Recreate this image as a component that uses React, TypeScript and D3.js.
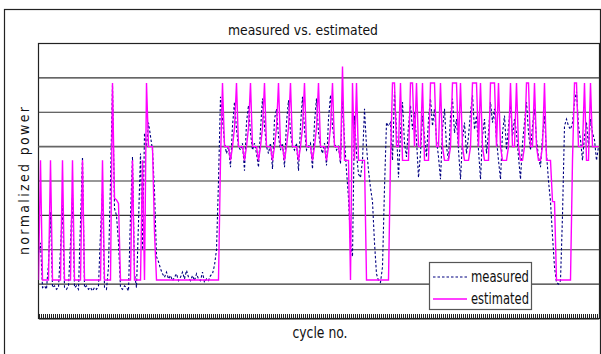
import { useEffect, useRef } from 'react'
import * as d3 from 'd3'

// normalized power per cycle (one value per cycle)
const measured = [
  0.9, 1.2, -0.1, -0.05, -0.15, 0.6, 2.1, -0.1, -0.05, -0.15, -0.1, 1.0, 2.3, -0.1, -0.15, -0.05, 1.2, 2.6, -0.1, -0.05,
  -0.15, 1.8, 3.7, -0.1, -0.05, -0.15, -0.1, -0.2, -0.1, -0.15, -0.05, 1.5, 2.7, -0.1, -0.15, 0.5, 3.0, 5.8, 2.2, 2.0,
  1.2, -0.1, -0.15, -0.05, -0.1, -0.2, 2.0, 3.7, 0.3, -0.1, 1.8, 3.8, 1.0, 4.4, 4.0, 4.7, 4.3, 3.9, 2.7, 0.8,
  0.65, 0.45, 0.3, 0.2, 0.35, 0.15, 0.25, 0.1, 0.2, 0.3, 0.1, 0.2, 0.35, 0.15, 0.4, 0.2, 0.1, 0.25, 0.1, 0.3,
  0.15, 0.1, 0.35, 0.05, 0.15, 0.1, 0.25, 0.3, 0.55, 1.0, 3.0, 5.45, 4.8, 4.1, 3.8, 4.0, 3.4, 4.6, 5.3, 4.5,
  4.0, 3.9, 4.1, 3.3, 4.7, 5.2, 4.4, 3.9, 4.1, 3.8, 3.4, 4.5, 5.4, 4.6, 4.0, 3.8, 4.1, 3.35, 4.8, 5.1,
  4.3, 3.9, 4.1, 3.4, 4.7, 5.35, 4.4, 4.0, 3.9, 4.1, 3.3, 4.6, 5.45, 4.5, 3.9, 4.0, 4.1, 3.35, 4.7, 5.4,
  4.4, 4.0, 3.8, 4.1, 3.45, 4.8, 5.5, 4.6, 4.1, 3.9, 4.0, 3.5, 5.4, 4.2, 3.3, 2.5, 1.2, 0.8, 4.9, 3.8,
  3.2, 3.1, 3.6, 5.1, 4.0, 3.3, 2.8, 2.4, 1.2, 0.3, 0.1, 0.05, 0.5, 2.8, 4.7, 4.6, 4.7, 3.6, 5.6, 4.5,
  3.1, 4.4, 5.3, 4.1, 3.7, 4.6, 5.2, 4.5, 5.0, 4.2, 3.1, 3.8, 4.9, 4.3, 3.7, 4.8, 5.4, 4.6, 5.1, 4.2,
  3.7, 3.05, 4.5, 5.1, 4.0, 3.6, 4.9, 5.4, 4.4, 4.8, 3.9, 3.05, 4.2, 4.7, 3.8, 4.3, 5.0, 5.5, 4.5, 4.9,
  3.9, 3.05, 4.3, 4.8, 3.8, 4.4, 5.3, 4.7, 5.1, 4.2, 3.6, 3.05, 4.4, 4.9, 3.9, 4.6, 5.2, 4.3, 4.8, 4.4,
  3.7, 3.05, 4.1, 4.7, 5.3, 4.4, 3.9, 4.6, 5.1, 4.2, 3.7, 3.4, 4.3, 4.9, 3.8, 3.0, 2.4, 1.4, 0.5, 0.05,
  0.0, 0.1, 2.0, 4.6, 4.8, 4.6, 4.5, 4.7, 5.3, 5.6, 4.6, 4.2, 3.6, 4.3, 4.7, 4.0, 4.8, 4.4, 4.2, 3.6,
  4.0,
]

const estimated = [
  0.12, 3.6, 0.12, 0.12, 0.12, 0.12, 3.6, 0.12, 0.12, 0.12, 0.12, 0.12, 3.6, 0.12, 0.12, 0.12, 0.12, 3.6, 0.12, 0.12,
  0.12, 0.12, 3.6, 0.12, 0.12, 0.12, 0.12, 0.12, 0.12, 0.12, 0.12, 0.12, 3.6, 0.12, 0.12, 0.12, 0.12, 5.85, 2.5, 2.45,
  2.35, 0.12, 0.12, 0.12, 0.12, 0.12, 0.12, 3.6, 0.12, 0.12, 0.12, 0.12, 3.6, 0.12, 5.85, 4.0, 4.0, 4.0, 1.5, 0.12,
  0.12, 0.12, 0.12, 0.12, 0.12, 0.12, 0.12, 0.12, 0.12, 0.12, 0.12, 0.12, 0.12, 0.12, 0.12, 0.12, 0.12, 0.12, 0.12, 0.12,
  0.12, 0.12, 0.12, 0.12, 0.12, 0.12, 0.12, 0.12, 0.12, 0.12, 0.12, 3.6, 5.85, 4.0, 4.0, 4.0, 3.6, 4.0, 4.55, 5.85,
  4.0, 4.0, 4.0, 3.6, 4.0, 4.55, 5.85, 4.0, 4.0, 4.0, 3.6, 4.0, 4.55, 5.85, 4.0, 4.0, 4.0, 3.6, 4.0, 4.55,
  5.85, 4.0, 4.0, 3.6, 4.0, 4.55, 5.85, 4.0, 4.0, 4.0, 3.6, 4.0, 4.55, 5.85, 4.0, 4.0, 4.0, 3.6, 4.0, 4.55,
  5.85, 4.0, 4.0, 4.0, 3.6, 4.0, 4.55, 5.85, 4.0, 4.0, 4.0, 3.6, 6.33, 3.6, 3.6, 3.6, 0.12, 5.85, 3.6, 5.85,
  3.6, 3.6, 3.6, 3.6, 0.12, 0.12, 0.12, 0.12, 0.12, 0.12, 0.12, 0.12, 0.12, 0.12, 0.12, 0.12, 3.6, 5.85, 5.85, 4.0,
  4.0, 5.85, 3.6, 3.6, 3.6, 3.6, 5.85, 5.85, 4.0, 5.85, 4.0, 4.0, 5.85, 3.6, 3.6, 3.6, 5.85, 5.85, 5.85, 4.0,
  4.0, 5.85, 4.0, 3.6, 3.6, 3.6, 4.0, 5.85, 5.85, 5.85, 4.0, 5.85, 4.0, 3.6, 3.6, 3.6, 4.0, 5.85, 5.85, 5.85,
  4.0, 5.85, 4.0, 3.6, 3.6, 3.6, 5.85, 5.85, 5.85, 4.0, 5.85, 4.0, 3.6, 3.6, 3.6, 4.0, 5.85, 4.0, 4.0, 5.85,
  4.0, 3.6, 3.6, 4.0, 5.85, 5.85, 4.0, 4.0, 5.85, 4.0, 3.6, 3.6, 4.0, 5.85, 3.6, 3.6, 3.6, 2.4, 2.4, 0.12,
  0.12, 0.12, 0.12, 0.12, 0.12, 0.12, 0.12, 3.6, 5.85, 5.85, 4.0, 4.0, 4.0, 5.85, 3.6, 3.6, 5.85, 4.0, 4.0, 4.0,
  4.0,
]

const gridValues = [0, 1, 2, 3, 4, 5, 6]
const yDomain = [-1, 7]

const FONT = "'Liberation Sans Narrow', 'Arial Narrow', 'DejaVu Sans Condensed', sans-serif"

export default function App() {
  const svgRef = useRef<SVGSVGElement>(null)

  useEffect(() => {
    if (!svgRef.current) return
    const svg = d3.select(svgRef.current)
    svg.selectAll('*').remove()

    const plot = { left: 38.5, right: 599.5, top: 43.5, bottom: 318.5 }
    const n = Math.max(measured.length, estimated.length)

    const x = d3.scaleLinear().domain([0, n - 1]).range([plot.left, plot.right - 1])
    const y = d3.scaleLinear().domain(yDomain).range([plot.bottom, plot.top])

    // outer frame of the chart object
    svg.append('rect')
      .attr('x', 4.5).attr('y', 9.5)
      .attr('width', 596).attr('height', 360)
      .attr('fill', '#fff').attr('stroke', '#222').attr('stroke-width', 1.2)

    svg.append('text')
      .attr('x', 303).attr('y', 35)
      .attr('text-anchor', 'middle')
      .attr('font-family', FONT).attr('font-size', 14).attr('fill', '#111')
      .attr('textLength', 150).attr('lengthAdjust', 'spacingAndGlyphs')
      .text('measured vs. estimated')

    // plot area
    svg.append('rect')
      .attr('x', plot.left).attr('y', plot.top)
      .attr('width', plot.right - plot.left).attr('height', plot.bottom - plot.top)
      .attr('fill', '#fff').attr('stroke', '#222').attr('stroke-width', 1.2)

    svg.append('clipPath').attr('id', 'plot-clip')
      .append('rect')
      .attr('x', plot.left).attr('y', plot.top)
      .attr('width', plot.right - plot.left).attr('height', plot.bottom - plot.top)

    svg.append('g')
      .selectAll('line')
      .data(gridValues)
      .join('line')
      .attr('x1', plot.left).attr('x2', plot.right)
      .attr('y1', (d) => y(d)).attr('y2', (d) => y(d))
      .attr('stroke', (d) => (d === 4 ? '#666' : '#333'))
      .attr('stroke-width', (d) => (d === 4 ? 1.8 : 1.2))

    // category ticks along the bottom, one per cycle
    const axis = svg.append('g')
      .attr('transform', `translate(0,${plot.bottom})`)
      .call(
        d3.axisBottom(x)
          .tickValues(d3.range(n))
          .tickSizeInner(-5)
          .tickSizeOuter(0)
          .tickFormat(() => '')
      )
    axis.select('.domain').attr('stroke', '#222').attr('stroke-width', 1.2)
    axis.selectAll('.tick line')
      .attr('stroke', '#222').attr('stroke-width', 1)
      .attr('shape-rendering', 'crispEdges')

    const line = d3.line<number>()
      .x((_, i) => x(i))
      .y((d) => y(d))

    const g = svg.append('g').attr('clip-path', 'url(#plot-clip)')

    g.append('path')
      .datum(measured)
      .attr('d', line)
      .attr('fill', 'none')
      .attr('stroke', '#000080')
      .attr('stroke-width', 1.1)
      .attr('stroke-dasharray', '2.5,2')

    g.append('path')
      .datum(estimated)
      .attr('d', line)
      .attr('fill', 'none')
      .attr('stroke', '#ff00ff')
      .attr('stroke-width', 1.4)
      .attr('stroke-linejoin', 'miter')

    // legend
    const lg = svg.append('g')
    lg.append('rect')
      .attr('x', 429.5).attr('y', 262.5)
      .attr('width', 102).attr('height', 47)
      .attr('fill', '#fff').attr('stroke', '#555').attr('stroke-width', 1.2)
    lg.append('line')
      .attr('x1', 433).attr('x2', 467).attr('y1', 277).attr('y2', 277)
      .attr('stroke', '#000080').attr('stroke-width', 1.1).attr('stroke-dasharray', '2.5,2')
    lg.append('line')
      .attr('x1', 433).attr('x2', 467).attr('y1', 299).attr('y2', 299)
      .attr('stroke', '#ff00ff').attr('stroke-width', 1.4)
    lg.append('text')
      .attr('x', 471).attr('y', 282)
      .attr('font-family', FONT).attr('font-size', 15).attr('fill', '#111')
      .attr('textLength', 58).attr('lengthAdjust', 'spacingAndGlyphs')
      .text('measured')
    lg.append('text')
      .attr('x', 471).attr('y', 304)
      .attr('font-family', FONT).attr('font-size', 15).attr('fill', '#111')
      .attr('textLength', 58).attr('lengthAdjust', 'spacingAndGlyphs')
      .text('estimated')

    // axis titles
    svg.append('text')
      .attr('x', 320).attr('y', 338)
      .attr('text-anchor', 'middle')
      .attr('font-family', FONT).attr('font-size', 15).attr('fill', '#111')
      .attr('textLength', 55).attr('lengthAdjust', 'spacingAndGlyphs')
      .text('cycle no.')

    svg.append('text')
      .attr('transform', 'translate(29,181) rotate(-90)')
      .attr('text-anchor', 'middle')
      .attr('font-family', FONT).attr('font-size', 14).attr('fill', '#111')
      .attr('textLength', 148).attr('lengthAdjust', 'spacing')
      .text('normalized power')
  }, [])

  return (
    <svg
      ref={svgRef}
      width={601}
      height={354}
      style={{ position: 'absolute', left: 0, top: 0, background: '#fff' }}
    />
  )
}
